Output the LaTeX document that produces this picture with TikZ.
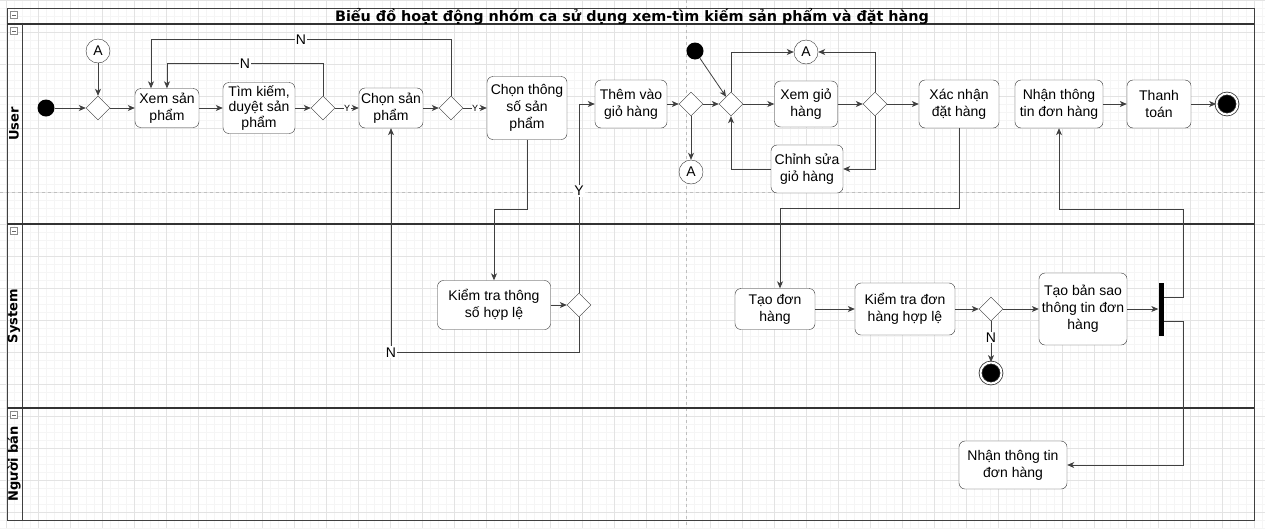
\documentclass[tikz,border=0pt]{standalone}
\usepackage{fontspec}
\setmainfont{Liberation Sans}
\newfontfamily\headfont{DejaVu Sans}
\usetikzlibrary{arrows.meta, shapes.geometric}

\begin{document}
\begin{tikzpicture}[x=1pt, y=-1pt,
  act/.style={draw=black!80, fill=white, rounded corners=6pt, align=center, inner sep=1pt, font=\fontsize{14}{17}\selectfont},
  dec/.style={draw=black!80, fill=white, diamond, minimum width=24pt, minimum height=24pt, inner sep=0pt},
  conn/.style={draw=black!80, fill=white, circle, minimum size=24pt, inner sep=0pt, font=\fontsize{14}{17}\selectfont},
  init/.style={fill=black, circle, minimum size=17pt, inner sep=0pt},
  final/.style={circle, fill=black, draw=black!80, double=white, double distance=2pt, line width=0.8pt, minimum size=21pt, inner sep=0pt},
  arr/.style={draw=black!75, line width=0.8pt, -{Stealth[length=7pt, width=6pt, inset=2pt]}},
  lbl/.style={fill=white, inner sep=1pt, font=\fontsize{14}{16}\selectfont},
  tiny/.style={fill=white, inner sep=0.5pt, font=\fontsize{9}{10}\selectfont},
  lane/.style={rotate=90, font=\headfont\bfseries\fontsize{13}{15}\selectfont}
]
\useasboundingbox (0,0) rectangle (1265,528);
% background grid
\begin{scope}[shift={(6.5,0)}]
\draw[step=8pt, black!4, line width=0.5pt] (-8,528) grid (1260,0);
\draw[step=32pt, black!11, line width=0.5pt] (-8,528) grid (1260,0);
\end{scope}
\draw[dashed, black!25] (686,0) -- (686,528);
\draw[dashed, black!25] (0,192) -- (1265,192);

% pool and lanes
\draw[black!75, line width=1pt] (7,8) rectangle (1254,520);
\draw[black!80, line width=1.5pt] (7,24) -- (1254,24);
\draw[black!75, line width=1pt] (22,24) -- (22,520);
\draw[black!80, line width=1.5pt] (7,224) -- (1254,224) (7,408) -- (1254,408);
\node[font=\headfont\bfseries\fontsize{14.4}{16}\selectfont] (title) at (632,16) {Biểu đồ hoạt động nhóm ca sử dụng xem-tìm kiếm sản phẩm và đặt hàng};
\node[lane] (luser) at (14,124) {User};
\node[lane] (lsys) at (14,316) {System};
\node[lane] (lban) at (14,464) {Người bán};
\foreach \y in {15,31,231,415} {
  \draw[black!45, fill=white] (10.5,\y-3.5) rectangle (17.5,\y+3.5);
  \draw[black!60] (12,\y) -- (16,\y);
}

% User
\node[init] (s1) at (46,108) {};
\node[dec] (d1) at (98,108) {};
\node[conn] (a1) at (98,51) {A};
\node[act, minimum width=64pt, minimum height=39pt] (xem) at (167,108) {Xem sản\\phẩm};
\node[act, minimum width=72pt, minimum height=51pt, font=\fontsize{14}{15.5}\selectfont] (tim) at (259,108) {Tìm kiếm,\\duyệt sản\\phẩm};
\node[dec] (d2) at (323,108) {};
\node[act, minimum width=64pt, minimum height=40pt] (chon) at (391,108) {Chọn sản\\phẩm};
\node[dec] (d3) at (451,108) {};
\node[act, minimum width=80pt, minimum height=63pt] (thongso) at (527,108) {Chọn thông\\số sản\\phẩm};
\node[act, minimum width=72pt, minimum height=48pt] (them) at (631,104) {Thêm vào\\giỏ hàng};
\node[dec] (d4) at (691,104) {};
\node[conn] (a2) at (691,172) {A};
\node[init] (s2) at (695,51) {};
\node[dec] (d5) at (731,104) {};
\node[conn] (a3) at (806,52) {A};
\node[act, minimum width=63pt, minimum height=46pt] (xemgio) at (806,104) {Xem giỏ\\hàng};
\node[act, minimum width=72pt, minimum height=48pt] (sua) at (807,169) {Chỉnh sửa\\giỏ hàng};
\node[dec] (d6) at (875,104) {};
\node[act, minimum width=80pt, minimum height=48pt] (xacnhan) at (959,104) {Xác nhận\\đặt hàng};
\node[act, minimum width=88pt, minimum height=48pt] (nhan) at (1059,104) {Nhận thông\\tin đơn hàng};
\node[act, minimum width=64pt, minimum height=48pt] (thanhtoan) at (1159,104) {Thanh\\toán};
\node[final] (e1) at (1227,104) {};

% System
\node[act, minimum width=113pt, minimum height=49pt] (ktts) at (494,305) {Kiểm tra thông\\số hợp lệ};
\node[dec] (d7) at (579,305) {};
\node[act, minimum width=80pt, minimum height=41pt] (taodon) at (775,309) {Tạo đơn\\hàng};
\node[act, minimum width=100pt, minimum height=52pt] (ktdon) at (905,309) {Kiểm tra đơn\\hàng hợp lệ};
\node[dec] (d8) at (991,309) {};
\node[final] (e2) at (991,373) {};
\node[act, minimum width=88pt, minimum height=72pt] (saoban) at (1083,309) {Tạo bản sao\\thông tin đơn\\hàng};
\node[fill=black, minimum width=5pt, minimum height=53pt, inner sep=0pt] (bar) at (1161,309) {};

% Nguoi ban
\node[act, minimum width=108pt, minimum height=48pt] (nban) at (1013,465) {Nhận thông tin\\đơn hàng};

% flows
\draw[arr] (s1) -- (d1);
\draw[arr] (a1) -- (d1);
\draw[arr] (d1) -- (xem);
\draw[arr] (xem) -- (tim);
\draw[arr] (tim) -- (d2);
\draw[arr] (d2) -- node[tiny]{Y} (chon);
\draw[arr] (d2.north) |- node[lbl, pos=0.75]{N} ([yshift=25pt]xem.north) -- (xem.north);
\draw[arr] (d3.north) |- node[lbl, pos=0.75]{N} ([xshift=-16pt, yshift=49pt]xem.north) -- ([xshift=-16pt]xem.north);
\draw[arr] (chon) -- (d3);
\draw[arr] (d3) -- node[tiny]{Y} (thongso);
\draw[arr] (thongso.south) -- ++(0,70) -| (ktts.north);
\draw[arr] (ktts) -- (d7);
\draw[arr] (d7.north) |- node[lbl, pos=0.27]{Y} (them.west);
\draw[arr] (d7.south) -- ++(0,35) -| node[lbl, pos=0.5]{N} (chon.south);
\draw[arr] (them) -- (d4);
\draw[arr] (d4) -- (a2);
\draw[arr] (d4) -- (d5);
\draw[arr] (s2) -- (d5);
\draw[arr] (d5) -- (xemgio);
\draw[arr] (d5.north) |- (a3);
\draw[arr] (sua.west) -| (d5.south);
\draw[arr] (xemgio) -- (d6);
\draw[arr] (d6.north) |- (a3);
\draw[arr] (d6.south) |- (sua.east);
\draw[arr] (d6) -- (xacnhan);
\draw[arr] (xacnhan.south) -- ++(0,80) -| ([xshift=5pt]taodon.north);
\draw[arr] (nhan) -- (thanhtoan);
\draw[arr] (thanhtoan) -- (e1);
\draw[arr] (taodon) -- (ktdon);
\draw[arr] (ktdon) -- (d8);
\draw[arr] (d8) -- (saoban);
\draw[arr] (d8) -- node[lbl, pos=0.4]{N} (e2);
\draw[arr] (saoban) -- (bar);
\draw[arr] ([yshift=12pt]bar.east) -- ++(20,0) -- ++(0,-88) -| (nhan.south);
\draw[arr] ([yshift=-12pt]bar.east) -- ++(20,0) |- (nban.east);
\end{tikzpicture}
\end{document}
